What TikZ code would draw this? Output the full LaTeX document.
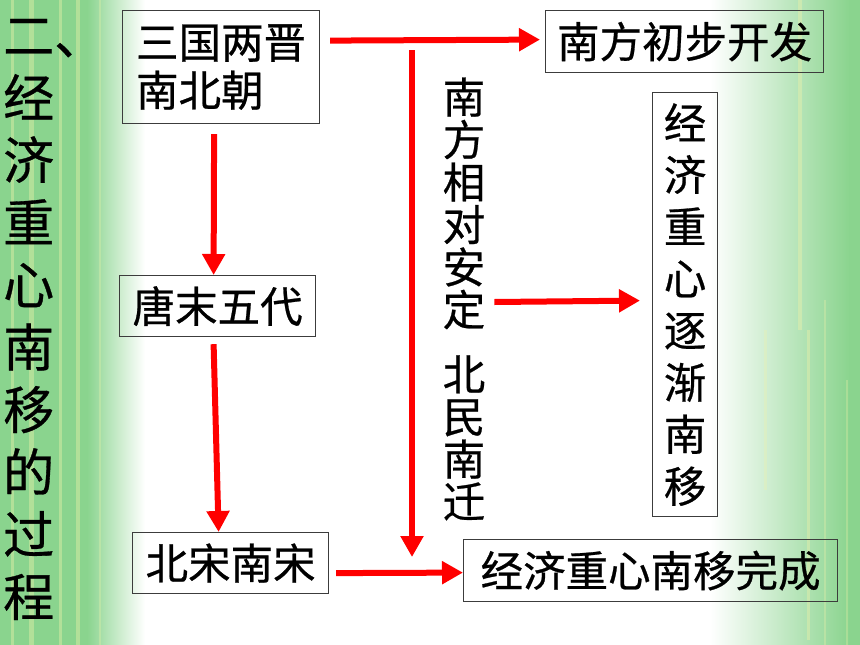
\documentclass[tikz,border=0pt]{standalone}
\usepackage{fontspec}
\newfontfamily\cjk{Noto Sans CJK SC}[FakeBold=0.6]
\usetikzlibrary{arrows.meta,calc}
\definecolor{bggreen}{RGB}{138,212,142}
\definecolor{streak}{RGB}{240,242,170}
\definecolor{boxline}{RGB}{60,60,60}
\tikzset{
  boxnode/.style={draw=boxline, line width=1.2pt, inner sep=0pt, text=black,
    font=\cjk\fontsize{42.5pt}{48pt}\selectfont},
  redarrow/.style={draw=red, line width=6pt, -{Triangle[length=21pt,width=22pt]}},
  streakline/.style={draw=streak, opacity=0.4},
}
\begin{document}
\begin{tikzpicture}[x=1pt,y=-1pt]
\useasboundingbox (0,0) rectangle (860,645);
% background
\fill[white] (0,0) rectangle (860,645);
\fill[bggreen] (0,0) rectangle (88,645);
\shade[left color=bggreen, right color=white] (87,0) rectangle (145,645);
\shade[left color=white, right color=bggreen] (710,0) rectangle (850,645);
\fill[bggreen] (849,0) rectangle (860,645);
% streaks
\draw[streakline, line width=3pt] (12,0) -- (12,645);
\draw[streakline, line width=5pt] (31,0) -- (31,645);
\draw[streakline, line width=3pt] (60,0) -- (60,645);
\draw[streakline, line width=4pt] (78,0) -- (78,645);
\draw[streakline, line width=2pt, opacity=0.3] (100,0) -- (100,645);
\draw[streakline, line width=4pt] (800,0) -- (800,330);
\draw[streakline, line width=3pt, opacity=0.3] (765,330) -- (765,490);
\draw[streakline, line width=3pt] (808,330) -- (808,640);
\draw[streakline, line width=2pt, opacity=0.3] (825,300) -- (825,645);
\draw[streakline, line width=2pt, opacity=0.3] (847,380) -- (847,645);
% title
\node[anchor=west, inner sep=0pt, align=left,
      font=\cjk\fontsize{51pt}{62.4pt}\selectfont] (title) at (3,319.5)
  {二、\\经\\济\\重\\心\\南\\移\\的\\过\\程};
% boxes
\node[boxnode, anchor=north west, minimum width=197pt, minimum height=113pt, align=left] (b1) at (122,10) {三国两晋\\南北朝};
\node[boxnode, anchor=north west, minimum width=196pt, minimum height=61pt] (b2) at (119,275) {唐末五代};
\node[boxnode, anchor=north west, minimum width=196pt, minimum height=61pt] (b3) at (132,532) {北宋南宋};
\node[boxnode, anchor=north west, minimum width=278pt, minimum height=62pt] (b4) at (545,10) {南方初步开发};
\node[boxnode, anchor=north west, minimum width=65pt, minimum height=424pt, align=center,
      font=\cjk\fontsize{42.5pt}{51.9pt}\selectfont] (b5) at (652,92)
  {经\\济\\重\\心\\逐\\渐\\南\\移};
\node[boxnode, anchor=north west, minimum width=374pt, minimum height=62pt] (b6) at (463,539) {经济重心南移完成};
% vertical middle text
\node[inner sep=0pt, align=center, font=\cjk\fontsize{42.5pt}{42.5pt}\selectfont] (vt) at (464,299)
  {南\\方\\相\\对\\安\\定\\[22pt]北\\民\\南\\迁};
% free ends of the long arrow
\coordinate (vtop) at (412,50);
\coordinate (vbot) at (412,557);
% arrows
\draw[redarrow] ($(b1.east |- b4.west)+(10,-1)$) -- ($(b4.west)+(-5,-2)$);
\draw[redarrow] (vtop) -- (vbot);
\draw[redarrow] ($(b1.south)+(-7,10)$) -- ($(b2.north)+(-4,0)$);
\draw[redarrow] ($(b2.south)+(-4,7)$) -- ($(b3.north)+(-12,0)$);
\draw[redarrow] ($(b3.east)+(7,10)$) -- ($(b6.west)+(0,2)$);
\draw[redarrow] ($(vt.east)+(9,3)$) -- ($(b5.west)+(-12,-4)$);
\end{tikzpicture}
\end{document}
